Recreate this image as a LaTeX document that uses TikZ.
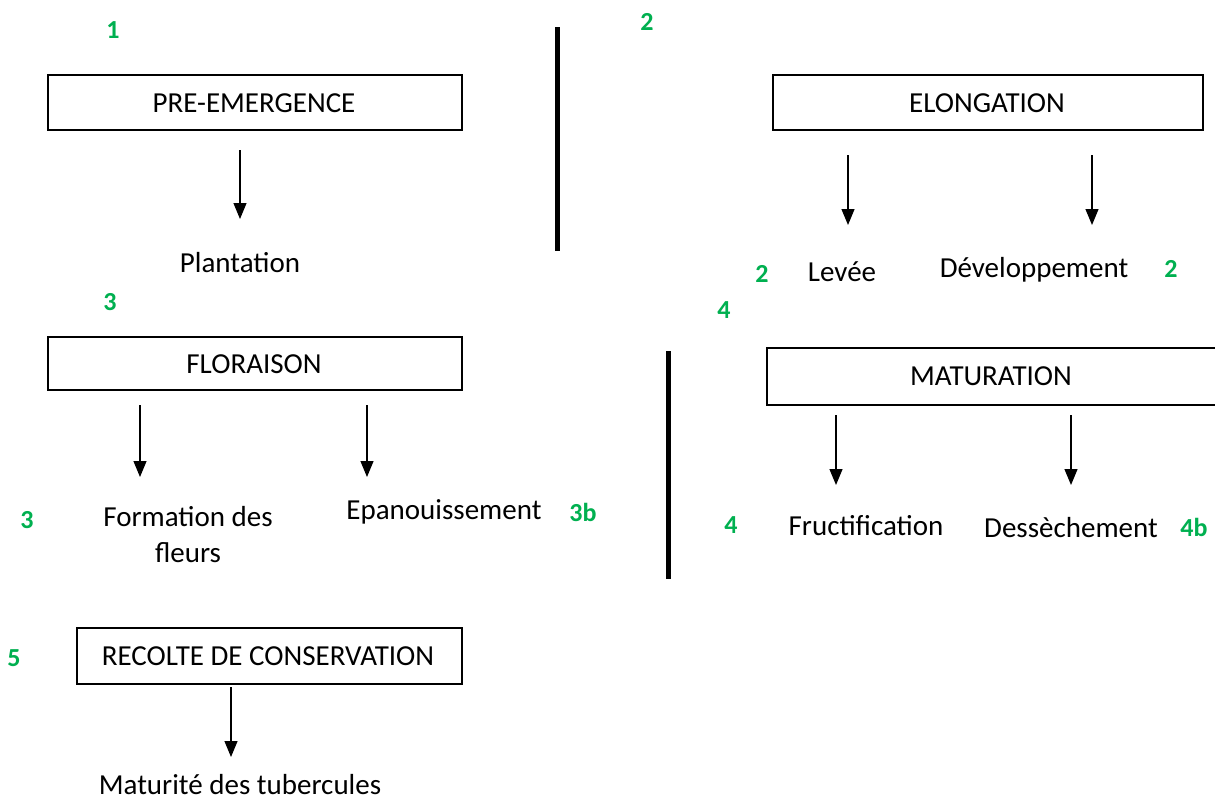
\documentclass[tikz,border=0pt]{standalone}
\usepackage{fontspec}
\setmainfont{Carlito}
\usetikzlibrary{arrows.meta}
\definecolor{numgreen}{RGB}{0,176,80}
\begin{document}
\begin{tikzpicture}[x=1pt,y=-1pt,
  stagebox/.style={draw,line width=1.5pt,inner sep=0pt,anchor=north west},
  lbl/.style={font=\fontsize{29}{36}\selectfont,inner sep=0pt},
  num/.style={font=\fontsize{26}{30}\selectfont\bfseries,text=numgreen,inner sep=0pt},
  arr/.style={line width=1.2pt,-{Triangle[width=13pt,length=16pt]}},
  sep/.style={line width=5pt}]
\useasboundingbox (0,0) rectangle (1215,803);
\fill[white] (0,0) rectangle (1215,803);
% boxes
\node[stagebox,minimum width=414pt,minimum height=55pt] (pre) at (47,74) {};
\node[lbl] (preT) at (254,103) {PRE-EMERGENCE};
\node[stagebox,minimum width=430pt,minimum height=55pt] (elo) at (772,74) {};
\node[lbl] (eloT) at (987,103) {ELONGATION};
\node[stagebox,minimum width=414pt,minimum height=53pt] (flo) at (47,336) {};
\node[lbl] (floT) at (254,364) {FLORAISON};
\node[stagebox,minimum width=460pt,minimum height=57pt] (mat) at (766,347) {};
\node[lbl] (matT) at (991,376) {MATURATION};
\node[stagebox,minimum width=385pt,minimum height=56pt] (rec) at (76,627) {};
\node[lbl] (recT) at (268,656) {RECOLTE DE CONSERVATION};
% arrow endpoints
\coordinate (a1s) at (240,150); \coordinate (a1e) at (240,219);
\coordinate (a2s) at (848,155); \coordinate (a2e) at (848,225);
\coordinate (a3s) at (1092,155); \coordinate (a3e) at (1092,225);
\coordinate (a4s) at (140,405); \coordinate (a4e) at (140,477);
\coordinate (a5s) at (367,405); \coordinate (a5e) at (367,477);
\coordinate (a6s) at (836,415); \coordinate (a6e) at (836,485);
\coordinate (a7s) at (1071,415); \coordinate (a7e) at (1071,485);
\coordinate (a8s) at (231,687); \coordinate (a8e) at (231,757);
\foreach \i in {1,...,8} {\draw[arr] (a\i s) -- (a\i e);}
% separators
\coordinate (s1t) at (557,27); \coordinate (s1b) at (557,251);
\coordinate (s2t) at (668,351); \coordinate (s2b) at (668,579);
\draw[sep] (s1t) -- (s1b);
\draw[sep] (s2t) -- (s2b);
% labels
\node[lbl] (plant) at (240,263) {Plantation};
\node[lbl] (levee) at (842,272) {Levée};
\node[lbl] (dev) at (1034,270) {Développement};
\node[lbl,align=center] (form) at (188,535) {Formation des\\fleurs};
\node[lbl] (epa) at (444,512) {Epanouissement};
\node[lbl] (fruc) at (866,526) {Fructification};
\node[lbl] (dess) at (1071,528) {Dessèchement};
\node[lbl] (matu) at (240,785) {Maturité des tubercules};
% numbers
\node[num] (n1) at (113,30) {1};
\node[num] (n2) at (647,22) {2};
\node[num] (n2a) at (762,274) {2};
\node[num] (n2b) at (1171,269) {2};
\node[num] (n3) at (110,302) {3};
\node[num] (n4) at (724,310) {4};
\node[num] (n3a) at (27,520) {3};
\node[num] (n3b) at (583,512) {3b};
\node[num] (n4a) at (731,525) {4};
\node[num,fill=white,inner sep=3pt] (n4b) at (1194,527) {4b};
\node[num] (n5) at (14,658) {5};
\end{tikzpicture}
\end{document}
